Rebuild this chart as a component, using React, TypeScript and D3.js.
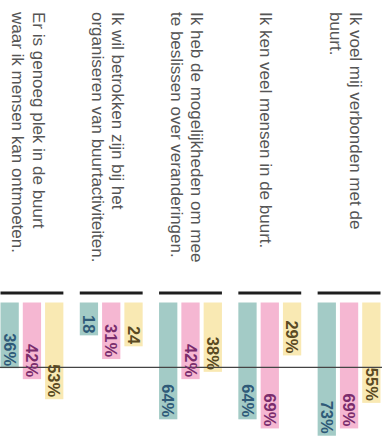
import React from "react";
import * as d3 from "d3";

const categories: string[][] = [
  ["Ik voel mij verbonden met de", "buurt."],
  ["Ik ken veel mensen in de buurt."],
  ["Ik heb de mogelijkheden om mee", "te beslissen over veranderingen."],
  ["Ik wil betrokken zijn bij het", "organiseren van buurtactiviteiten."],
  ["Er is genoeg plek in de buurt", "waar ik mensen kan ontmoeten."],
];

const seriesKeys = ["teal", "pink", "yellow"];
const tealValues = [73, 64, 64, 18, 36];
const pinkValues = [69, 69, 42, 31, 42];
const yellowValues = [55, 29, 38, 24, 53];
const tealLabels = ["73%", "64%", "64%", "18", "36%"];
const pinkLabels = ["69%", "69%", "42%", "31%", "42%"];
const yellowLabels = ["55%", "29%", "38%", "24", "53%"];
const referenceValue = 35.5;

const W = 382;
const H = 439;

const barFill: Record<string, string> = { teal: "#a3cbc6", pink: "#f5b7d2", yellow: "#f9e9b3" };
const textFill: Record<string, string> = { teal: "#2e5a78", pink: "#7a2c6c", yellow: "#5a4a22" };

export default function App() {
  const ids = categories.map((_, i) => String(i));
  const x = d3.scaleBand<string>().domain(ids).range([380.5, 0.5]).paddingInner(0.207).paddingOuter(0);
  const xi = d3.scaleBand<string>().domain(seriesKeys).range([0, x.bandwidth()]).paddingInner(0.18);
  const y = d3.scaleLinear().domain([0, 100]).range([302.5, 485]);

  const seriesData: Record<string, { v: number[]; l: string[] }> = {
    teal: { v: tealValues, l: tealLabels },
    pink: { v: pinkValues, l: pinkLabels },
    yellow: { v: yellowValues, l: yellowLabels },
  };

  const fs = 17;
  const lh = 1.2;

  return (
    <svg width={W} height={H} style={{ position: "absolute", left: 0, top: 0, background: "#fff" }}
      fontFamily="'Liberation Sans', Arial, sans-serif">
      {ids.map((id, i) => {
        const x0 = x(id)!;
        const cx = x0 + x.bandwidth() / 2;
        const lines = categories[i];
        const startDy = -((lines.length - 1) / 2) * lh + 0.55;
        return (
          <g key={id}>
            <text transform={`translate(${cx},12) rotate(90)`} fontSize={fs} fill="#555">
              {lines.map((ln, k) => (
                <tspan key={k} x={0} dy={`${k === 0 ? startDy : lh}em`}>{ln}</tspan>
              ))}
            </text>
            <line x1={x0} x2={x0 + x.bandwidth()} y1={y(0) - 9.5} y2={y(0) - 9.5} stroke="#1e1e1e" strokeWidth={2.8} />
            {seriesKeys.map((s) => {
              const v = seriesData[s].v[i];
              return (
                <rect key={s} x={x0 + xi(s)!} width={xi.bandwidth()} y={y(0)} height={y(v) - y(0)} fill={barFill[s]} />
              );
            })}
          </g>
        );
      })}
      <line x1={0} x2={W} y1={y(referenceValue)} y2={y(referenceValue)} stroke="#444" strokeWidth={1.2} />
      {ids.map((id, i) => {
        const x0 = x(id)!;
        return (
          <g key={"l" + id}>
            {seriesKeys.map((s) => {
              const v = seriesData[s].v[i];
              const cx = x0 + xi(s)! + xi.bandwidth() / 2;
              return (
                <text key={s} transform={`translate(${cx},${y(v) - 2}) rotate(90)`} textAnchor="end" dy="0.35em"
                  fontSize={16.5} fontWeight="bold" fill={textFill[s]}>
                  {seriesData[s].l[i]}
                </text>
              );
            })}
          </g>
        );
      })}
    </svg>
  );
}
